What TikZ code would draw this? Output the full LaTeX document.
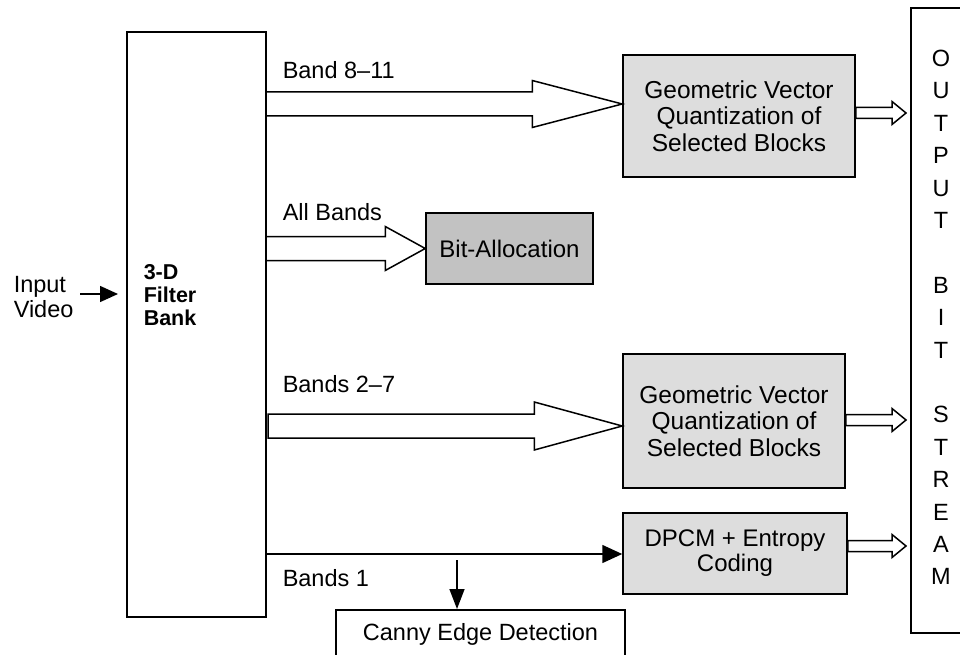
\documentclass[tikz,border=0pt]{standalone}
\usepackage{fontspec}
\setmainfont{Liberation Sans}
\usetikzlibrary{calc,arrows.meta}

\definecolor{boxgray}{RGB}{221,221,221}
\definecolor{bitgray}{RGB}{194,194,194}

% hollow block arrow: #1 start, #2 tip, #3 half shaft, #4 half head, #5 head length
\newcommand\hollowarrow[5]{%
  \draw[fatarrow] let \p1=(#1), \p2=(#2) in
    (\x1,\y1+#3) -- (\x2-#5,\y1+#3) -- (\x2-#5,\y1+#4) -- (\x2,\y1)
    -- (\x2-#5,\y1-#4) -- (\x2-#5,\y1-#3) -- (\x1,\y1-#3) -- cycle;}

\begin{document}
\begin{tikzpicture}[x=1pt,y=-1pt,
  line width=1.5pt,
  font=\fontsize{23.5}{26}\selectfont,
  box/.style={draw, inner sep=0pt, align=center},
  greybox/.style={box, fill=boxgray, font=\fontsize{24.5}{26.5}\selectfont},
  fatarrow/.style={draw, fill=white, line width=1.5pt, line join=miter},
  lbl/.style={anchor=west, inner sep=0pt},
]
\useasboundingbox (0,0) rectangle (960,655);
\clip (0,0) rectangle (960,655);

% main blocks
\node[box, minimum width=139pt, minimum height=585pt] (fb) at (196.5,324.5) {};
\node[anchor=west, inner sep=0pt, align=left,
      font=\bfseries\fontsize{21.5}{23}\selectfont] (fbtext) at (143,295) {3-D\\Filter\\Bank};

\node[greybox, minimum width=232pt, minimum height=122pt] (gvq1) at (739,116)
  {Geometric Vector\\Quantization of\\Selected Blocks};
\node[box, fill=bitgray, minimum width=167pt, minimum height=71pt,
      font=\fontsize{24}{26}\selectfont] (bit) at (509.5,248.5)
  {Bit-Allocation};
\node[greybox, minimum width=222pt, minimum height=134pt] (gvq2) at (734,421)
  {Geometric Vector\\Quantization of\\Selected Blocks};
\node[greybox, minimum width=224pt, minimum height=81pt, font=\fontsize{24}{25}\selectfont]
  (dpcm) at (735,553.5) {DPCM + Entropy\\Coding};
\node[box, anchor=north, minimum width=289pt, inner ysep=6pt,
      text height=25pt, text depth=60pt] (canny) at (480.5,609) {Canny Edge Detection};

% output bit stream column
\node[box, minimum width=60pt, minimum height=625pt, text depth=6pt,
      font=\fontsize{23.5}{32.4}\selectfont] (outbox) at (941,320.5)
  {O\\U\\T\\P\\U\\T\\\mbox{}\\B\\I\\T\\\mbox{}\\S\\T\\R\\E\\A\\M};

% input
\node[anchor=west, inner sep=0pt, align=left, font=\fontsize{23.5}{25}\selectfont]
  (inp) at (13,297) {Input\\Video};
\coordinate (vin) at (80,294);
\coordinate (vtip) at (118,294);
\draw[-{Triangle[length=18pt,width=16pt]}] (vin) -- (vtip);

% band labels
\node[lbl] (l811) at (282,70) {Band 8–11};
\node[lbl] (lall) at (282,212) {All Bands};
\node[lbl] (l27) at (282,384) {Bands 2–7};
\node[lbl] (l1) at (282,578) {Bands 1};

% wide hollow arrows out of the filter bank
\coordinate (s811) at (266,104);
\hollowarrow{s811}{gvq1.west |- s811}{12pt}{23.5pt}{90pt}
\coordinate (sall) at (266,248.5);
\hollowarrow{sall}{bit.west |- sall}{12pt}{22pt}{40pt}
\coordinate (s27) at (268,426);
\hollowarrow{s27}{gvq2.west |- s27}{12pt}{24pt}{88pt}

% small hollow arrows into the output stream
\coordinate (g1s) at (gvq1.east |- 0,113);
\coordinate (g1t) at (906,113);
\hollowarrow{g1s}{g1t}{5.5pt}{11.5pt}{14pt}
\coordinate (g2s) at (gvq2.east |- 0,420);
\coordinate (g2t) at (906,420);
\hollowarrow{g2s}{g2t}{5.5pt}{11.5pt}{14pt}
\coordinate (dps) at (dpcm.east |- 0,546);
\coordinate (dpt) at (906,546);
\hollowarrow{dps}{dpt}{5.5pt}{11.5pt}{14pt}

% band 1 path
\coordinate (b1) at (266,554);
\draw[-{Triangle[length=20pt,width=18pt]}] (b1) -- (b1 -| dpcm.west);
\coordinate (cs) at (457,560);
\draw[-{Triangle[length=20pt,width=15pt]}] (cs) -- (cs |- canny.north);
\end{tikzpicture}
\end{document}
